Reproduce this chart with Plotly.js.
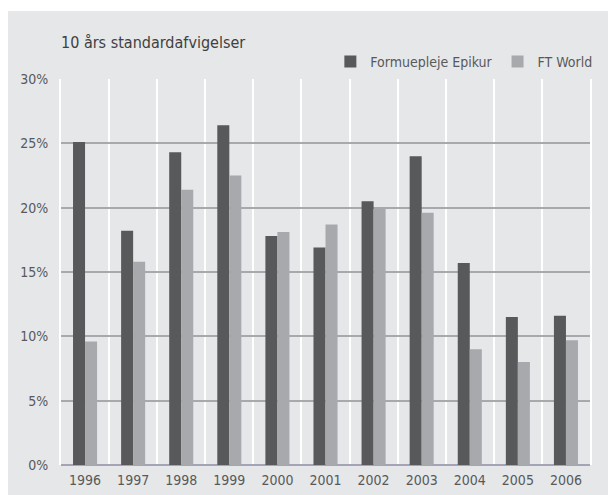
<!DOCTYPE html>
<html>
<head>
<meta charset="utf-8">
<script src="https://cdn.plot.ly/plotly-3.0.1.min.js"></script>
<style>
  html, body { margin: 0; padding: 0; background: #ffffff; }
  #chart { position: absolute; left: 8px; top: 11px; width: 600px; height: 484px; }
</style>
</head>
<body>
<div id="chart"></div>
<script>
const years = ['1996','1997','1998','1999','2000','2001','2002','2003','2004','2005','2006'];
const epikur = [25.1, 18.2, 24.3, 26.4, 17.8, 16.9, 20.5, 24.0, 15.7, 11.5, 11.6];
const ftWorld = [9.6, 15.8, 21.4, 22.5, 18.1, 18.7, 19.9, 19.6, 9.0, 8.0, 9.7];
const yTicks = [0, 5, 10, 15, 20, 25, 30];

const FONT = "'Liberation Sans Narrow', 'DejaVu Sans Condensed', 'Arial Narrow', sans-serif";
const TXT = '#58595b';

const traces = [
  { type: 'bar', name: 'Formuepleje Epikur', x: years, y: epikur,
    marker: { color: '#58595b', line: { width: 0 } }, hoverinfo: 'x+y' },
  { type: 'bar', name: 'FT World', x: years, y: ftWorld,
    marker: { color: '#a7a9ac', line: { width: 0 } }, hoverinfo: 'x+y' }
];

const layout = {
  width: 600, height: 484,
  margin: { l: 53, r: 17, t: 68, b: 30, pad: 0 },
  paper_bgcolor: '#e6e7e8',
  plot_bgcolor: '#e6e7e8',
  font: { family: FONT, size: 14, color: TXT },
  barmode: 'group',
  bargap: 0.5,
  bargroupgap: 0,
  title: {
    text: '10 års standardafvigelser',
    font: { family: FONT, size: 16, color: '#404041' },
    xref: 'container', yref: 'container',
    x: 53 / 600, xanchor: 'left',
    y: 1 - 31 / 484, yanchor: 'middle'
  },
  showlegend: true,
  legend: {
    orientation: 'h',
    x: 1.012, xanchor: 'right',
    y: 1 + 17 / 386, yanchor: 'middle',
    bgcolor: 'rgba(0,0,0,0)',
    font: { family: FONT, size: 14, color: TXT },
    traceorder: 'normal'
  },
  xaxis: {
    type: 'category',
    tickson: 'boundaries',
    showgrid: true, gridcolor: '#ffffff', gridwidth: 2,
    ticks: '', showline: false, zeroline: false,
    tickfont: { family: FONT, size: 14, color: TXT },
    ticklabelstandoff: 5,
    fixedrange: true
  },
  yaxis: {
    range: [0, 30],
    tickvals: yTicks,
    ticktext: yTicks.map(v => v + '%'),
    showgrid: true, gridcolor: '#a7a9ac', gridwidth: 2,
    zeroline: true, zerolinecolor: '#a4a4b6', zerolinewidth: 2,
    showline: true, linecolor: '#ffffff', linewidth: 2, mirror: true,
    ticks: '',
    tickfont: { family: FONT, size: 14, color: TXT },
    ticklabelstandoff: 8,
    fixedrange: true
  }
};

Plotly.newPlot('chart', traces, layout, { displayModeBar: false, staticPlot: true });
</script>
</body>
</html>
